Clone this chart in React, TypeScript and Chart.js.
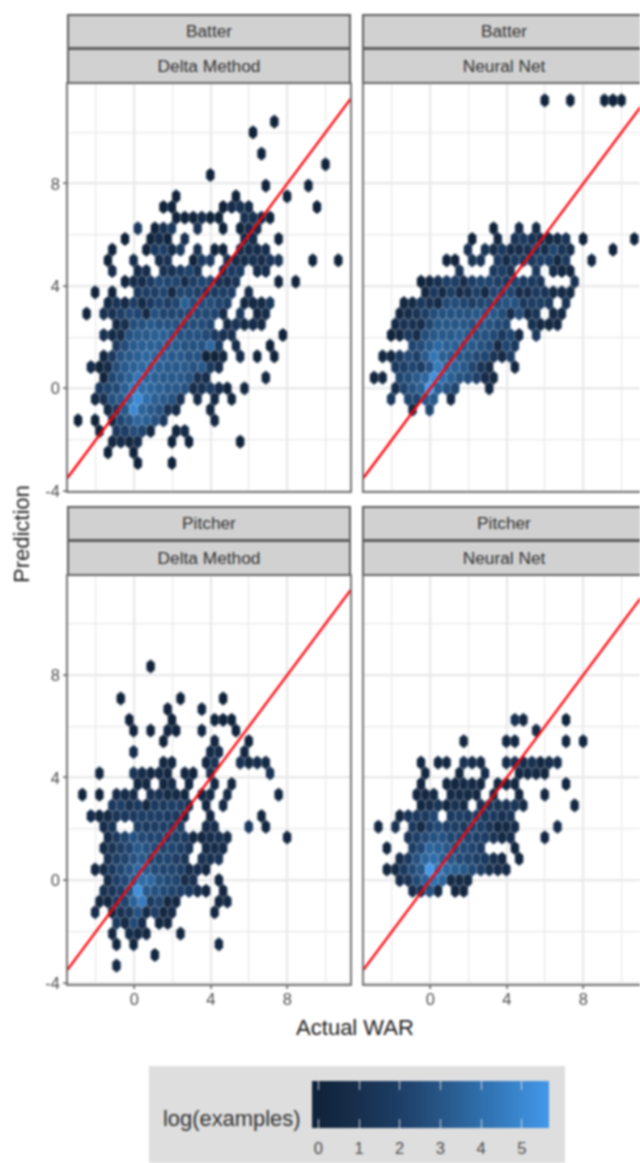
import React, { useEffect, useRef } from "react";
import { Chart, registerables } from "chart.js";

Chart.register(...registerables);

// Each segment: [hex row, first hex column, log(examples) of consecutive hexes...]
type Segment = number[];

const batterDelta: Segment[] = [
  [25,16.5,0],[24,14,0],[22,15,0],[21,22.5,0],[20,9,0],
  [19,15.5,0],[19,20.5,0],
  [18,5,0],[18,12,0],[18,18,0],
  [17,3.5,0,0],[17,10.5,0,0.7,1,0.5],[17,21.5,0],
  [16,5,0,0,0,0.7,0,0],[16,13,1,1,0.5,0],
  [15,0.5,1.5],[15,2.5,0,1,1.5],[15,7.5,1],[15,10.5,0],[15,12.5,0,0.7,0.7],
  [14,-1,0],[14,2,0,0.7,0],[14,6,1],[14,13,0.7,0.7],[14,17,0],
  [13,-2.5,0],[13,1.5,0,1.5,1.7,0.7,1.5],[13,7.5,1],[13,9.5,0,0],[13,12.5,0.7,0.7,0.7,0.7],
  [12,-3,0],[12,0,0.7],[12,3,0.7,1],[12,7,0,1.5,1.5],[12,11,1,0.7,0.7,1,0.7,1.2,1.2],[12,21,0],[12,24,0],
  [11,-2.5,0.7],[11,0.5,0.7,0.7],[11,3.5,1,1,1.5,2,1],[11,10.5,1,1.5,1.5],[11,14.5,0.7,0.7],
  [10,-1,0.3,0.7,0.7,1.5,2.2,2,2,0.7,1.7,2,2,1,0.7,1.2],[10,17,0],[10,19,0],
  [9,-4.5,0],[9,-2.5,0],[9,0.5,1.5,1.7,1.7,2,0.5,2,2,1.7,1.5,1.5,1.7,1.7],[9,13.5,0.7],
  [8,-3,0.5,1.2,0.5,1.7,0.5,1.5,2,1.7,2,3,2.3,2.3,2.3,2,1.7],[8,13,0.3,0.5,0.5,1.5],
  [7,-5.5,0],[7,-3.5,1,1,1.7,2.2,2,0.5,2.5,2,2,2.2,2.2,2.2,2.2,2,0.7],[7,12.5,1.5],[7,14.5,0.3,0.7],
  [6,-2,0.5,0.9,2.3,2.5,2.8,2.5,2.5,2.5,2.3,2.3,2.3,2],[6,11,0.5,1.2,0.5,0.7,0.5],
  [5,-3.5,1,0.5,0.7,2.5,2.8,2.8,3,3,2.8,2.5,2.5,2.5,2.2,1.5,1,1],[5,17.5,0],
  [4,-2,1.5,2.3,2.8,3,3,3,2.8,2.8,2.5,2.5,2.5,3.3,1.5],[4,12,0.7],[4,16,0],
  [3,-3.5,0.3,1.5,2.5,2.8,3,3.2,3.2,3,2.8,2.8,2.5,2.5,0,0,0.3],[3,12.5,0.7],[3,14.5,0],[3,16.5,0],
  [2,-5,0.7,0,0.7],[2,-2,2.3,2.8,3,3.3,3.3,3,2.8,2.8,2.8,2.5,2.8,1.5,0.7],
  [1,-3.5,0,2,2.5,3,3.8,3.2,3,2.8,2.8,2.8,2.5,1,0.7],[1,15.5,0.3],
  [0,-4,1.5,2,2.2,3,3.8,3.5,3.2,3,2.8,2.8,2.5,0.7,1,1.5,0.7,0],[0,13,0.3],
  [-1,-4.5,0.5,1,2.5,2.8,3.5,4.6,3.5,3,2.8,2.5,1],[-1,7.5,0.5],[-1,9.5,0.3],[-1,11.5,0.3],
  [-2,-3,0.5,1.5,2.8,4.5,3.2,2.8,2.5,1,0.5],[-2,9,0.3],
  [-3,-6.5,0],[-3,-4.5,0],[-3,-2.5,0.5,2,2.5,3.2,3,2.5,1.5],[-3,9.5,0.3],
  [-4,-4,0],[-4,-2,1.5,1.7,2.3,2,0.3],[-4,5,0.2,0.5],
  [-5,-2.5,0.3,0.5,0.3,0.7],[-5,4.5,0],[-5,6.5,0],[-5,12.5,0],
  [-6,-3,0],[-6,0,0],
  [-7,0.5,0],[-7,4.5,0],
];

const batterNeural: Segment[] = [
  [27,13.5,0],[27,16.5,0],[27,20.5,0,0,0],
  [15,7.5,0],[15,10.5,0.7],[15,12.5,0.5],
  [14,5,0],[14,8,0.3],[14,10,1.2,1.5,1,0.7,0.3,0.5,1.2],[14,18,0],[14,24,0],
  [13,4.5,1],[13,6.5,1.2,0.7,1.5,0.5,0.7,1,1.5,0.7,2,1.2,0.7],[13,21.5,0],
  [12,2,0,0],[12,5,1.2,1.2],[12,8,1.5,0.5,1.5,1.5,1.5,1.7,1.7,0.3,1.5],[12,19,0.3],
  [11,3.5,1.2],[11,7.5,1.5,1.7,1],[11,12.5,1.5],[11,14.5,0.7,0.3,0.3],
  [10,-1,0,0.3,1,1.7,1.7,0.7,1.7,2,2,1.7,1.5,2,1.5,1.5,1.2],[10,17,1],
  [9,-0.5,0.3,1.5,0.5,1.7,0.5,1,1.7,0.5,2,2,2,0.7,0.7,1.5,1.2,0.5,0.5,0.5],
  [8,-3,0.3,0.5,1.5,1,0.5,2.2,2.3,2,1.7,2,2.2,2.3,2.5,2.5,1.5,1.7,1.7,1.5],[8,16,1.2],
  [7,-3.5,0.3,0.7,1.2,1.7,2.3,2.5,2.5,2.5,2.5,2.7,2.7,2.7,2.3,0.7,2.3,0.5,1.2],[7,14.5,0.5,0.5],
  [6,-4,0.5,1.2,1,0.7,2,2.7,2.7,2.7,2.7,2.5,2.7,2.5,2.2,2],[6,12,1,0.3,0.3,0.3],
  [5,-4.5,0,0.3,1.5,0.7,2.3,2.7,2.8,2.8,3,2.8,2.5,2.5,2.2,1.5,2,0.5],[5,12.5,1.5],
  [4,-2,2,2.3,2.8,3.3,3,3,2.8,2.8,2.5,2.2,0.5,2,1.5],
  [3,-5.5,0.3,0.3,1.5],[3,-2.5,2.2,1.7,2.8,3.8,3,2.8,2.7,2.5,2.2,2,1.2,0.5,1.7],
  [2,-4,1.5,1.8,2,1.7,2.5,4,3.2,3,2.7,2,1.2,0.5],[2,10,0.3],
  [1,-6.5,0.3,0.3],[1,-3.5,2,2.3,2.8,3.2,4.8,3.5,3,2.5,2.3,1.8,0.7,0.3],
  [0,-4,0.7,2,2.5,3,5.2,3,2.5,2],[0,7,0.3],
  [-1,-4.5,1.5],[-1,-2.5,2,2,2.8,2.8],[-1,2.5,0.5],
  [-2,-2,0.3],[-2,0,2],
];

const pitcherDelta: Segment[] = [
  [20,2,0],
  [17,-1.5,0],[17,5.5,0],[17,10.5,0],
  [16,4,0],[16,8,0.3],
  [15,-0.5,0],[15,4.5,0],[15,9.5,0,0,0],
  [14,0,0],[14,2,0],[14,4,0.3,0],[14,8,0.3],[14,12,0],
  [13,3.5,0],[13,9.5,0.3],[13,13.5,0],
  [12,0,0.7],[12,9,0.5,0.7],[12,13,0.3],
  [11,3.5,0.3,0.3],[11,8.5,0.3,1.2],[11,12.5,1,0.5,0.7,0.5],
  [10,-4,0.3],[10,0,1.2,0.7,0.3,0.5,0.3],[10,6,0.3,0],[10,9,1],[10,16,1.2],
  [9,0.5,0.3,0.3],[9,3.5,0.3,0.7],[9,6.5,0.3],[9,9.5,0.3],[9,11.5,0.3],
  [8,-6,0],[8,-4,0],[8,-2,0.7,0.7,0.7],[8,2,1,1,0.5,0.5,0.3],[8,8,0.3,0.5],[8,11,0.5],[8,17,0.3],
  [7,-2.5,1.5,1.7,1,1.5,0.3,1.5,1.5,1.7,1.7,1],[7,8.5,0.3],[7,10.5,0.5],
  [6,-5,0.7,0.3,0.5,1.2,1.5,1.5,1.7,1.7,1.7,1.5,1.5,0.7],[6,9,0.3],[6,15,0.3],
  [5,-3.5,0.7,1.2],[5,0.5,1.7,1.5,1.7,1.7,1.7,1.7],[5,8.5,0.7,0.7],[5,13.5,1.5],[5,15.5,0.3],
  [4,-3,0.5,1.5,2,2.5,2.2,2,2,1.7,1.7,1.5,0.3,0.3,0.7,1,0.5],[4,18,0.3],
  [3,-3.5,0.5,1.2,1.7,2,2.8,2.5,2.2,2,2,1.7,1.2],[3,8.5,0.5,0.7,0.7],
  [2,-3,1,1.7,2,2.5,2.8,2,2,2,1.7,1.2],[2,8,1,1,1.2],
  [1,-4.5,0.3,0.5,1.5,2,2.5,3.3,2.8,2.2,2,2,1.7,0.7,0.7,0.3],
  [0,-3,0.5,1.8,2.2,2.8,3.5,3.3,2.5,2.2,2,0.7,1],[0,10,0.3],
  [-1,-3.5,1,1.2,1.7,2.5,4.8,2.8,2.5,2.2,2,1.7,1.5,0.7,0.3],[-1,10.5,0.3],
  [-2,-4,0.3,0.3,1.5,2,3,4,1.5,2,0.3,0.3],[-2,10,0.3,0.5],
  [-3,-4.5,0.7],[-3,-2.5,0.5,1,1.3,2.5,0.5,1.7,0.3,0.7],[-3,9.5,0.3],
  [-4,-2,1.5,0.5,2.2,0.7],[-4,3,0.3,0.3],
  [-5,-2.5,0.3],[-5,-0.5,0.7,0.5,0.3],[-5,5.5,0.3],
  [-6,-2,0.3],[-6,0,0.3],[-6,10,0.5],
  [-7,2.5,0.3],
  [-8,-2,0.5],
];

const pitcherNeural: Segment[] = [
  [15,10,1,0.3],[15,16,0],
  [14,12.5,0.5],
  [13,4,0.3],[13,9,0.3,0.3],[13,16,0.3],[13,18,0.3],
  [11,-1,0.3],[11,1,0.3,0.3],[11,4,1,0.7,0.5],[11,9,0.7,1,0.7,1,0.3,0.7,0.7],
  [10,-0.5,0.3],[10,3.5,0.3],[10,6.5,0.7],[10,10.5,0.3,0.5,0.5,0.3],
  [9,-1,0.3],[9,2,0.3,0.3,0.5,0.5,0.3],[9,8,0.3,0.3,0.3],[9,16,0.3],
  [8,-1.5,0.3,0.3,0.5],[8,2.5,0.5,0.5,0.5,0.3],[8,7.5,0.5],[8,10.5,0.3],[8,13.5,0.3],
  [7,-1,0.3,0.7,1.2,0.3,1,0.5],[7,6,1,1.3,1.2,1,1.3,0.5],[7,17,0.3],
  [6,-3.5,0.3,1.2,1.5,1.5,2],[6,2.5,1.5,1.7,1.5,1.7,1.5,1.5,1,1.2],
  [5,-6,0.3],[5,-4,1],[5,-2,1.5,0.5,1.7,2.2,1.7,1.7,1.5,2,1.7,1.2,0.3,0.5,0.7],[5,15,0.7],
  [4,-2.5,1.2,1.7,2.2,2.5,2.5,2,2,2,1.7,1.7,1.2,0.5,0.7],[4,13.5,0.3],
  [3,-5,0.3],[3,-2,1.7,2.2,3.2,3,2.7,2.2,2.2,2,1.5],[3,10,0.3],
  [2,-3.5,0.7,1.5,2.5,3.2,3.5,3,2.7,2.2,2,1.7,1.5,0.8,0.3],[2,10.5,0.3],
  [1,-5,0.3,0.5,1.5,2.2,2.7,5.6,3.7,3.3,3,2.7,2.2,1.7,1,0.7,0.5],
  [0,-3.5,0.7,1.2,2.2,3,3.6,3.2,0.5,0.5,0.5],
  [-1,-2,0.7,1.2,2.5,0.5],[-1,3,0.3,0.3],
];

const warTicks = [-4, -2, 0, 2, 4, 6, 8, 10];
const labelledTicks = [-4, 0, 4, 8];
const legendTicks = [0, 1, 2, 3, 4, 5];
const colourStops: [number, number[]][] = [
  [0, [16, 35, 58]],
  [1, [24, 47, 78]],
  [2, [29, 62, 102]],
  [3, [39, 86, 134]],
  [4, [47, 111, 172]],
  [5, [59, 136, 209]],
  [5.7, [68, 151, 234]],
];

const HEX_W = 8.53;
const HEX_H = 10.67;
const UNIT_X = 19.12;
const UNIT_Y = 25.6;
const FONT = '"Liberation Sans", Arial, sans-serif';

function colourFor(v: number): string {
  for (let i = 1; i < colourStops.length; i++) {
    const [v1, c1] = colourStops[i];
    const [v0, c0] = colourStops[i - 1];
    if (v <= v1) {
      const t = (v - v0) / (v1 - v0);
      const c = c0.map((a, j) => Math.round(a + (c1[j] - a) * t));
      return `rgb(${c[0]},${c[1]},${c[2]})`;
    }
  }
  return "rgb(68,151,234)";
}

const sprites = new Map<number, HTMLCanvasElement>();
function hexSprite(v: number): HTMLCanvasElement {
  let s = sprites.get(v);
  if (s) return s;
  s = document.createElement("canvas");
  s.width = 12;
  s.height = 18;
  const c = s.getContext("2d")!;
  const hw = HEX_W / 2 - 0.06;
  const hh = (HEX_H * 4) / 6 - 0.06;
  c.fillStyle = colourFor(v * 1.12);
  c.beginPath();
  c.moveTo(6, 9 - hh);
  c.lineTo(6 + hw, 9 - hh / 2);
  c.lineTo(6 + hw, 9 + hh / 2);
  c.lineTo(6, 9 + hh);
  c.lineTo(6 - hw, 9 + hh / 2);
  c.lineTo(6 - hw, 9 - hh / 2);
  c.closePath();
  c.fill();
  sprites.set(v, s);
  return s;
}

function toPoints(segments: Segment[]) {
  const pts: { x: number; y: number; v: number }[] = [];
  for (const [row, col, ...vals] of segments) {
    vals.forEach((v, i) => {
      pts.push({
        x: ((col + i) * HEX_W - 0.8) / UNIT_X,
        y: (row * HEX_H) / UNIT_Y,
        v,
      });
    });
  }
  return pts;
}

const borderPlugin = {
  id: "panelBorder",
  afterDraw(chart: any) {
    const { ctx, chartArea: a } = chart;
    ctx.save();
    ctx.strokeStyle = "#666666";
    ctx.lineWidth = 1.8;
    ctx.strokeRect(a.left, a.top, a.right - a.left, a.bottom - a.top);
    ctx.restore();
  },
};

type PanelProps = {
  left: number;
  top: number;
  height: number;
  yMin: number;
  yMax: number;
  segments: Segment[];
  showX: boolean;
  showY: boolean;
};

function Panel({ left, top, height, yMin, yMax, segments, showX, showY }: PanelProps) {
  const ref = useRef<HTMLCanvasElement | null>(null);
  const axisW = showY ? 67 : 1;
  const axisH = showX ? 30 : 10;
  const panelW = 284;
  const xMin = -3.52;
  const xMax = 11.33;

  useEffect(() => {
    const gridWidth = (ctx: any) => (labelledTicks.includes(ctx.tick?.value) ? 2.2 : 1.2);
    const tickColour = (ctx: any) =>
      labelledTicks.includes(ctx.tick?.value) ? "#444444" : "rgba(0,0,0,0)";
    const noPad = (s: any) => {
      s.paddingTop = 0;
      s.paddingBottom = 0;
      s.paddingLeft = 0;
      s.paddingRight = 0;
    };
    const chart = new Chart(ref.current!, {
      type: "scatter",
      data: {
        datasets: [
          {
            type: "line",
            data: [
              { x: xMin, y: xMin },
              { x: xMax, y: xMax },
            ],
            borderColor: "#FF0008",
            borderWidth: 2.4,
            pointRadius: 0,
            order: 0,
          },
          {
            data: toPoints(segments),
            pointRadius: 6,
            pointStyle: (ctx: any) => hexSprite(ctx.raw?.v ?? 0),
            order: 1,
          },
        ],
      } as any,
      plugins: [borderPlugin],
      options: {
        animation: false,
        responsive: false,
        devicePixelRatio: 1,
        layout: { autoPadding: false, padding: { top: 1, right: 1 } },
        plugins: { legend: { display: false }, tooltip: { enabled: false } },
        scales: {
          x: {
            type: "linear",
            min: xMin,
            max: xMax,
            afterBuildTicks: (s: any) => {
              s.ticks = warTicks.filter((v) => v > -3.5 && v !== -4).map((value) => ({ value }));
            },
            afterFit: (s: any) => {
              s.height = axisH;
              noPad(s);
            },
            border: { display: false },
            grid: {
              color: "#E8E8E8",
              lineWidth: gridWidth,
              drawTicks: showX,
              tickColor: tickColour,
              tickLength: 4,
              tickWidth: 1.3,
            },
            ticks: {
              display: showX,
              autoSkip: false,
              maxRotation: 0,
              padding: 2,
              color: "#4D4D4D",
              font: { family: FONT, size: 16.5 },
              callback: (v: any) => (labelledTicks.includes(v) ? String(v) : ""),
            },
          },
          y: {
            type: "linear",
            min: yMin,
            max: yMax,
            afterBuildTicks: (s: any) => {
              s.ticks = warTicks.map((value) => ({ value }));
            },
            afterFit: (s: any) => {
              s.width = axisW;
              noPad(s);
            },
            border: { display: false },
            grid: {
              color: "#E8E8E8",
              lineWidth: gridWidth,
              drawTicks: showY,
              tickColor: tickColour,
              tickLength: 4,
              tickWidth: 1.3,
            },
            ticks: {
              display: showY,
              autoSkip: false,
              padding: 3,
              labelOffset: 1.5,
              color: "#4D4D4D",
              font: { family: FONT, size: 16.5 },
              callback: (v: any) => (labelledTicks.includes(v) ? String(v) : ""),
            },
          },
        },
      } as any,
    });
    return () => chart.destroy();
  }, []);

  return (
    <canvas
      ref={ref}
      width={axisW + panelW + 1}
      height={height + 1 + axisH}
      style={{
        position: "absolute",
        left: left - axisW,
        top: top - 1,
        width: axisW + panelW + 1,
        height: height + 1 + axisH,
        display: "block",
      }}
    />
  );
}

function Strip({ left, top, height, text }: { left: number; top: number; height: number; text: string }) {
  return (
    <div
      style={{
        position: "absolute",
        left,
        top,
        width: 284,
        height,
        boxSizing: "border-box",
        background: "#D1D1D1",
        border: "2px solid #5E5E5E",
        color: "#333333",
        fontFamily: FONT,
        fontSize: 17.3,
        lineHeight: `${height - 4}px`,
        textAlign: "center",
      }}
    >
      {text}
    </div>
  );
}

function Legend() {
  const stops: string[] = [];
  const n = 20;
  for (let i = 0; i <= n; i++) {
    const v = -0.15 + (5.81 * i) / n;
    stops.push(`${colourFor(Math.max(0, v))} ${(i / n) * 100}%`);
  }
  const barLeft = 312.3;
  const zero = 318.3;
  const step = 40.7;
  return (
    <>
      <div style={{ position: "absolute", left: 149, top: 1066, width: 416, height: 97, background: "#DEDEDE" }} />
      <div
        style={{
          position: "absolute",
          left: 163,
          top: 1107,
          fontFamily: FONT,
          fontSize: 21.9,
          color: "#333333",
          lineHeight: "24px",
          whiteSpace: "nowrap",
        }}
      >
        log(examples)
      </div>
      <div
        style={{
          position: "absolute",
          left: barLeft,
          top: 1081,
          width: 236.4,
          height: 47,
          background: `linear-gradient(to right, ${stops.join(",")})`,
        }}
      />
      {legendTicks.map((t) => (
        <React.Fragment key={t}>
          <div style={{ position: "absolute", left: zero + t * step - 0.5, top: 1081, width: 1, height: 9, background: "#cfd6de" }} />
          <div style={{ position: "absolute", left: zero + t * step - 0.5, top: 1119, width: 1, height: 9, background: "#cfd6de" }} />
          <div
            style={{
              position: "absolute",
              left: zero + t * step - 15,
              top: 1139,
              width: 30,
              textAlign: "center",
              fontFamily: FONT,
              fontSize: 16.5,
              lineHeight: "18px",
              color: "#4D4D4D",
            }}
          >
            {t}
          </div>
        </React.Fragment>
      ))}
    </>
  );
}

export default function App() {
  const root: React.CSSProperties = {
    position: "fixed",
    left: 0,
    top: 0,
    width: 640,
    height: 1163,
    overflow: "hidden",
    background: "#FFFFFF",
    filter: "blur(0.8px)",
  };
  const L1 = 67;
  const L2 = 363;
  return (
    <div style={root}>
      <Strip left={L1} top={14} height={35} text="Batter" />
      <Strip left={L1} top={48} height={36} text="Delta Method" />
      <Strip left={L2 - 1} top={14} height={35} text="Batter" />
      <Strip left={L2 - 1} top={48} height={36} text="Neural Net" />
      <Strip left={L1} top={506} height={35} text="Pitcher" />
      <Strip left={L1} top={540} height={36} text="Delta Method" />
      <Strip left={L2 - 1} top={506} height={35} text="Pitcher" />
      <Strip left={L2 - 1} top={540} height={36} text="Neural Net" />
      <Panel left={L1} top={83} height={409} yMin={-4.05} yMax={11.93} segments={batterDelta} showX={false} showY={true} />
      <Panel left={L2} top={83} height={409} yMin={-4.05} yMax={11.93} segments={batterNeural} showX={false} showY={false} />
      <Panel left={L1} top={575} height={410} yMin={-4.09} yMax={11.9} segments={pitcherDelta} showX={true} showY={true} />
      <Panel left={L2} top={575} height={410} yMin={-4.09} yMax={11.9} segments={pitcherNeural} showX={true} showY={false} />
      <div
        style={{
          position: "absolute",
          left: 255,
          width: 200,
          top: 1016,
          textAlign: "center",
          fontFamily: FONT,
          fontSize: 22,
          lineHeight: "24px",
          color: "#222222",
        }}
      >
        Actual WAR
      </div>
      <div
        style={{
          position: "absolute",
          left: 22,
          top: 534,
          transform: "translate(-50%,-50%) rotate(-90deg)",
          fontFamily: FONT,
          fontSize: 22,
          lineHeight: "24px",
          color: "#222222",
          whiteSpace: "nowrap",
        }}
      >
        Prediction
      </div>
      <Legend />
    </div>
  );
}
